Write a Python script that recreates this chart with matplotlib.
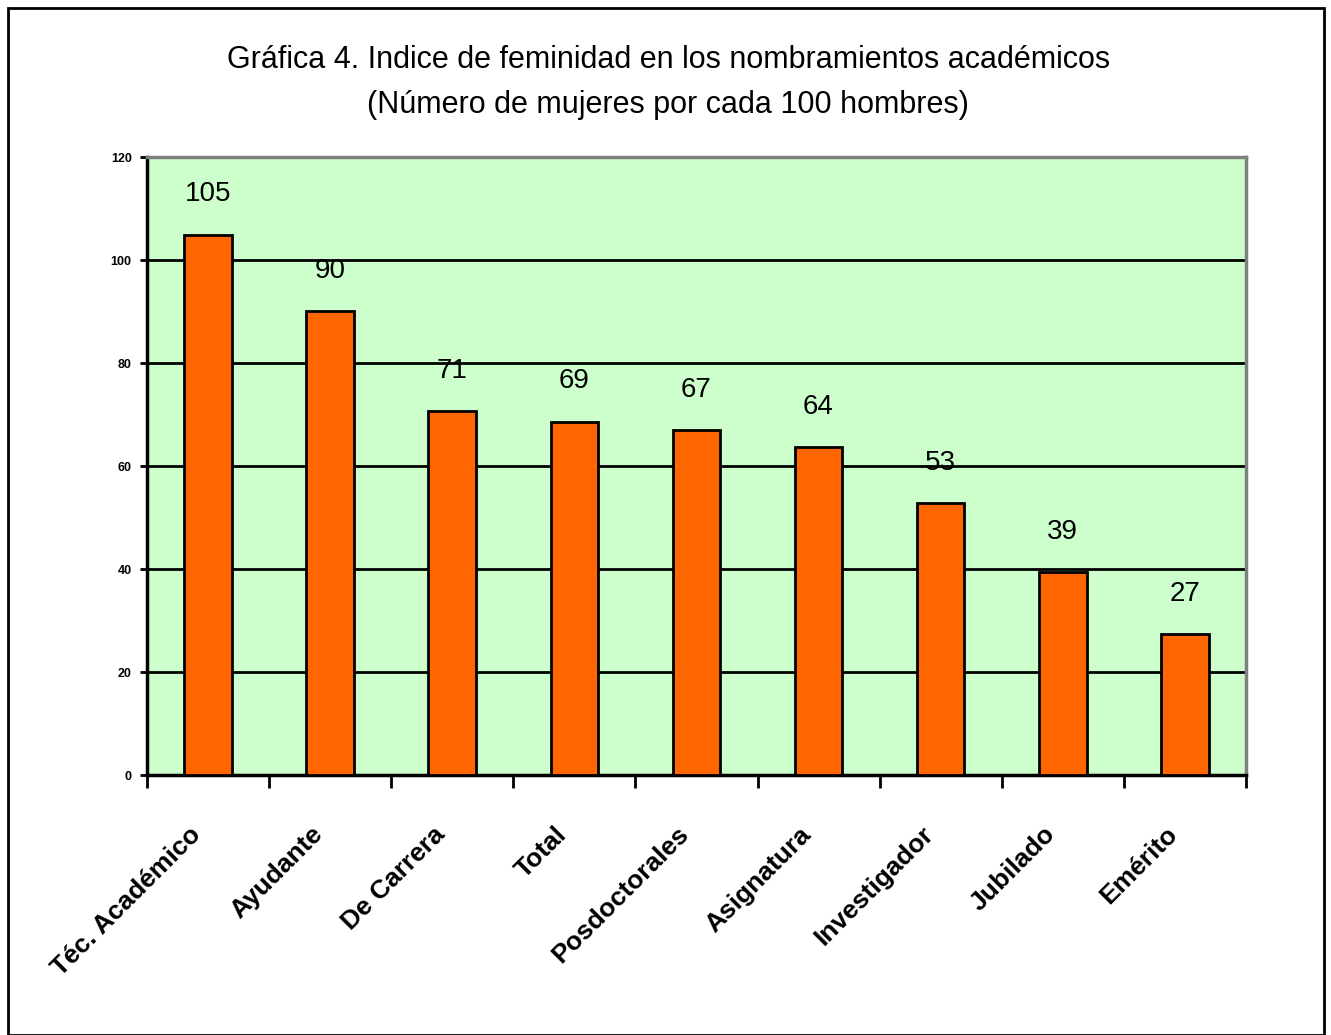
import matplotlib.pyplot as plt
import numpy as np
from matplotlib.patches import Rectangle
from matplotlib.transforms import ScaledTranslation

# datos
categorias = ["Téc. Académico", "Ayudante", "De Carrera", "Total", "Posdoctorales",
              "Asignatura", "Investigador", "Jubilado", "Emérito"]
indice = [104.9, 90.1, 70.6, 68.6, 66.9, 63.6, 52.8, 39.4, 27.3]
yticks = [0, 20, 40, 60, 80, 100, 120]

plt.rcParams['font.family'] = ['Liberation Sans', 'DejaVu Sans']

fig = plt.figure(figsize=(13.31, 10.35), dpi=100)
ax = fig.add_axes([0.1104, 0.2512, 0.8257, 0.5971])
ax.set_facecolor('#CCFFCC')

x = np.arange(len(categorias))
barras = ax.bar(x, indice, width=0.39, color='#FF6600', edgecolor='black', linewidth=2, zorder=3)

for b, v in zip(barras, indice):
    ax.annotate(f"{v:.0f}", (b.get_x() + b.get_width() / 2, v), xytext=(0, 29),
                textcoords='offset points', ha='center', va='center', fontsize=20)

ax.set_xlim(-0.5, len(categorias) - 0.5)
ax.set_ylim(0, 120)
ax.set_yticks(yticks)
ax.set_yticklabels([str(t) for t in yticks], fontsize=9, fontweight='bold')
ax.yaxis.grid(True, color='black', linewidth=2, zorder=1)
ax.set_axisbelow(True)
ax.tick_params(axis='y', direction='out', length=5, width=2, pad=6)

ax.set_xticks(x)
ax.set_xticklabels(categorias, rotation=45, ha='right', rotation_mode='anchor',
                   fontsize=19, fontweight='bold')
ax.tick_params(axis='x', which='major', length=0, pad=34)
ax.set_xticks(np.arange(-0.5, len(categorias)), minor=True)
ax.tick_params(axis='x', which='minor', direction='out', length=9, width=2)
# decalar un poco las etiquetas a la izquierda
for lab in ax.get_xticklabels():
    lab.set_transform(lab.get_transform() + ScaledTranslation(-14 / 72, 0, fig.dpi_scale_trans))

for s in ['left', 'bottom']:
    ax.spines[s].set_linewidth(2.5)
    ax.spines[s].set_color('black')
for s in ['top', 'right']:
    ax.spines[s].set_linewidth(2.5)
    ax.spines[s].set_color('#808080')

fig.text(0.502, 0.942, "Gráfica 4. Indice de feminidad en los nombramientos académicos",
         ha='center', va='center', fontsize=22)
fig.text(0.502, 0.899, "(Número de mujeres por cada 100 hombres)",
         ha='center', va='center', fontsize=22)

fig.patches.append(Rectangle((0.006, 0.0), 0.989, 0.992, transform=fig.transFigure,
                             fill=False, edgecolor='black', linewidth=2))

fig.savefig("out.png", dpi=100, facecolor='white')
